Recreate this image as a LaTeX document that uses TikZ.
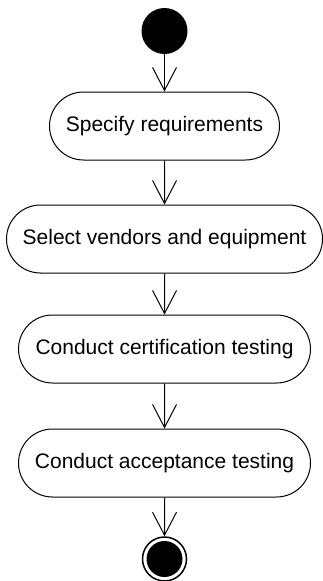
\documentclass[tikz,border=0pt]{standalone}
\usepackage{fontspec}
\setmainfont{Liberation Sans}
\usetikzlibrary{shapes.misc,arrows.meta}
\begin{document}
\begin{tikzpicture}[x=1pt,y=1pt,
  activity/.style={rounded rectangle, draw, line width=1pt, minimum height=68pt, inner sep=0pt, font=\fontsize{21}{25}\selectfont},
  flow/.style={draw, line width=1pt, -{Straight Barb[length=23pt,width=24pt,line width=1pt]}},
  startnode/.style={circle, fill=black, minimum size=46pt, inner sep=0pt},
  endnode/.style={circle, draw, line width=1.5pt, minimum size=44pt, inner sep=0pt}]
\useasboundingbox (0,0) rectangle (323,-581);
\node[startnode] (s) at (164.5,-31) {};
\node[activity, minimum width=230pt] (a1) at (164.5,-126) {Specify requirements};
\node[activity, minimum width=316pt] (a2) at (164.5,-239) {Select vendors and equipment};
\node[activity, minimum width=292pt] (a3) at (164.5,-349) {Conduct certification testing};
\node[activity, minimum width=292pt] (a4) at (164.5,-463) {Conduct acceptance testing};
\node[endnode] (e) at (164.5,-559) {};
\fill (e.center) circle (18pt);
\draw[flow] (s) -- (a1);
\draw[flow] (a1) -- (a2);
\draw[flow] (a2) -- (a3);
\draw[flow] (a3) -- (a4);
\draw[flow] (a4) -- (e);
\end{tikzpicture}
\end{document}
